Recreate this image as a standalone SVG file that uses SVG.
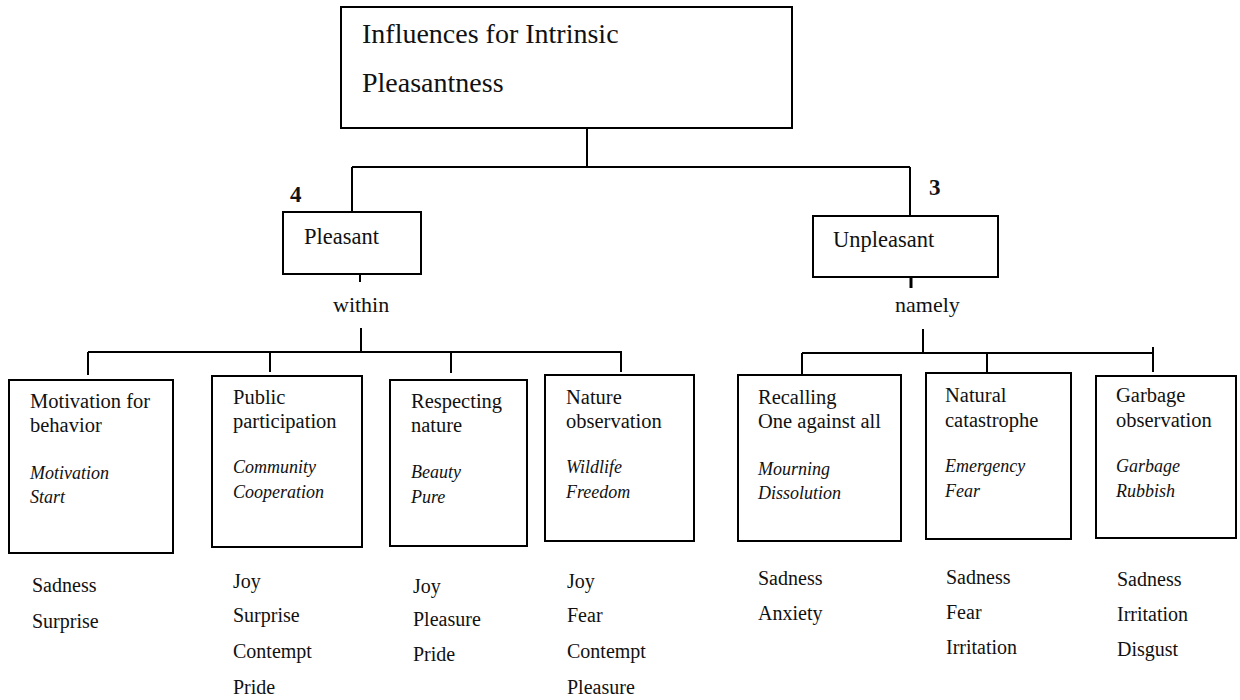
<svg xmlns="http://www.w3.org/2000/svg" width="1240" height="700" viewBox="0 0 1240 700" font-family="Liberation Serif, DejaVu Serif, serif">
  <style>
    text { font-family: "Liberation Serif", "DejaVu Serif", serif; fill: #111; }
    .title { font-size: 28px; }
    .branch { font-size: 22.5px; }
    .link { font-size: 22px; }
    .num { font-size: 23px; font-weight: bold; }
    .head { font-size: 20.5px; }
    .kw { font-size: 18px; font-style: italic; }
    .emo { font-size: 20px; }
    .box { fill: #fff; stroke: #000; stroke-width: 2; }
    .wire { stroke: #000; stroke-width: 2; fill: none; }
    .thick { stroke-width: 3; }
  </style>

  <rect width="1240" height="700" fill="#fff"/>

  <!-- connectors -->
  <g id="connectors">
    <path class="wire" d="M587 128 V167 M352 167 H910 M352 167 V212 M910 167 V216"/>
    <path class="wire" d="M360 274 V282 M361 328 V352"/>
    <path class="wire" d="M88 352 H622 M88 352 V375 M270 352 V372 M451 352 V373 M621 352 V372"/>
    <path class="wire thick" d="M911 277 V288"/>
    <path class="wire" d="M923 329 V353 M802 353 H1153 M802 353 V375 M987 353 V373 M1153 347 V372"/>
  </g>

  <!-- root -->
  <g id="root">
    <rect class="box" x="341" y="7" width="451" height="121"/>
    <text class="title" x="362" y="43">Influences for Intrinsic</text>
    <text class="title" x="362" y="92">Pleasantness</text>
  </g>

  <!-- branch: pleasant -->
  <g id="pleasant">
    <text class="num" x="290" y="202">4</text>
    <rect class="box" x="283" y="212" width="138" height="62"/>
    <text class="branch" x="304" y="244">Pleasant</text>
    <text class="link" x="333" y="312">within</text>
  </g>

  <!-- branch: unpleasant -->
  <g id="unpleasant">
    <text class="num" x="929" y="195">3</text>
    <rect class="box" x="813" y="216" width="185" height="61"/>
    <text class="branch" x="833" y="247">Unpleasant</text>
    <text class="link" x="895" y="312">namely</text>
  </g>

  <!-- pleasant categories -->
  <g id="motivation">
    <rect class="box" x="9" y="380" width="164" height="173"/>
    <text class="head" x="30" y="408">Motivation for</text>
    <text class="head" x="30" y="432">behavior</text>
    <text class="kw" x="30" y="479">Motivation</text>
    <text class="kw" x="30" y="503">Start</text>
    <text class="emo" x="32" y="592">Sadness</text>
    <text class="emo" x="32" y="628">Surprise</text>
  </g>

  <g id="public">
    <rect class="box" x="212" y="376" width="150" height="171"/>
    <text class="head" x="233" y="404">Public</text>
    <text class="head" x="233" y="428">participation</text>
    <text class="kw" x="233" y="473">Community</text>
    <text class="kw" x="233" y="498">Cooperation</text>
    <text class="emo" x="233" y="588">Joy</text>
    <text class="emo" x="233" y="622">Surprise</text>
    <text class="emo" x="233" y="658">Contempt</text>
    <text class="emo" x="233" y="694">Pride</text>
  </g>

  <g id="respecting">
    <rect class="box" x="390" y="380" width="137" height="166"/>
    <text class="head" x="411" y="408">Respecting</text>
    <text class="head" x="411" y="432">nature</text>
    <text class="kw" x="411" y="478">Beauty</text>
    <text class="kw" x="411" y="503">Pure</text>
    <text class="emo" x="413" y="593">Joy</text>
    <text class="emo" x="413" y="626">Pleasure</text>
    <text class="emo" x="413" y="661">Pride</text>
  </g>

  <g id="nature">
    <rect class="box" x="545" y="375" width="149" height="166"/>
    <text class="head" x="566" y="404">Nature</text>
    <text class="head" x="566" y="428">observation</text>
    <text class="kw" x="566" y="473">Wildlife</text>
    <text class="kw" x="566" y="498">Freedom</text>
    <text class="emo" x="567" y="588">Joy</text>
    <text class="emo" x="567" y="622">Fear</text>
    <text class="emo" x="567" y="658">Contempt</text>
    <text class="emo" x="567" y="694">Pleasure</text>
  </g>

  <!-- unpleasant categories -->
  <g id="recalling">
    <rect class="box" x="738" y="375" width="163" height="166"/>
    <text class="head" x="758" y="404">Recalling</text>
    <text class="head" x="758" y="428">One against all</text>
    <text class="kw" x="758" y="475">Mourning</text>
    <text class="kw" x="758" y="499">Dissolution</text>
    <text class="emo" x="758" y="585">Sadness</text>
    <text class="emo" x="758" y="620">Anxiety</text>
  </g>

  <g id="catastrophe">
    <rect class="box" x="926" y="373" width="145" height="166"/>
    <text class="head" x="945" y="402">Natural</text>
    <text class="head" x="945" y="427">catastrophe</text>
    <text class="kw" x="945" y="472">Emergency</text>
    <text class="kw" x="945" y="497">Fear</text>
    <text class="emo" x="946" y="584">Sadness</text>
    <text class="emo" x="946" y="619">Fear</text>
    <text class="emo" x="946" y="654">Irritation</text>
  </g>

  <g id="garbage">
    <rect class="box" x="1096" y="376" width="140" height="162"/>
    <text class="head" x="1116" y="402">Garbage</text>
    <text class="head" x="1116" y="427">observation</text>
    <text class="kw" x="1116" y="472">Garbage</text>
    <text class="kw" x="1116" y="497">Rubbish</text>
    <text class="emo" x="1117" y="586">Sadness</text>
    <text class="emo" x="1117" y="621">Irritation</text>
    <text class="emo" x="1117" y="656">Disgust</text>
  </g>
</svg>
